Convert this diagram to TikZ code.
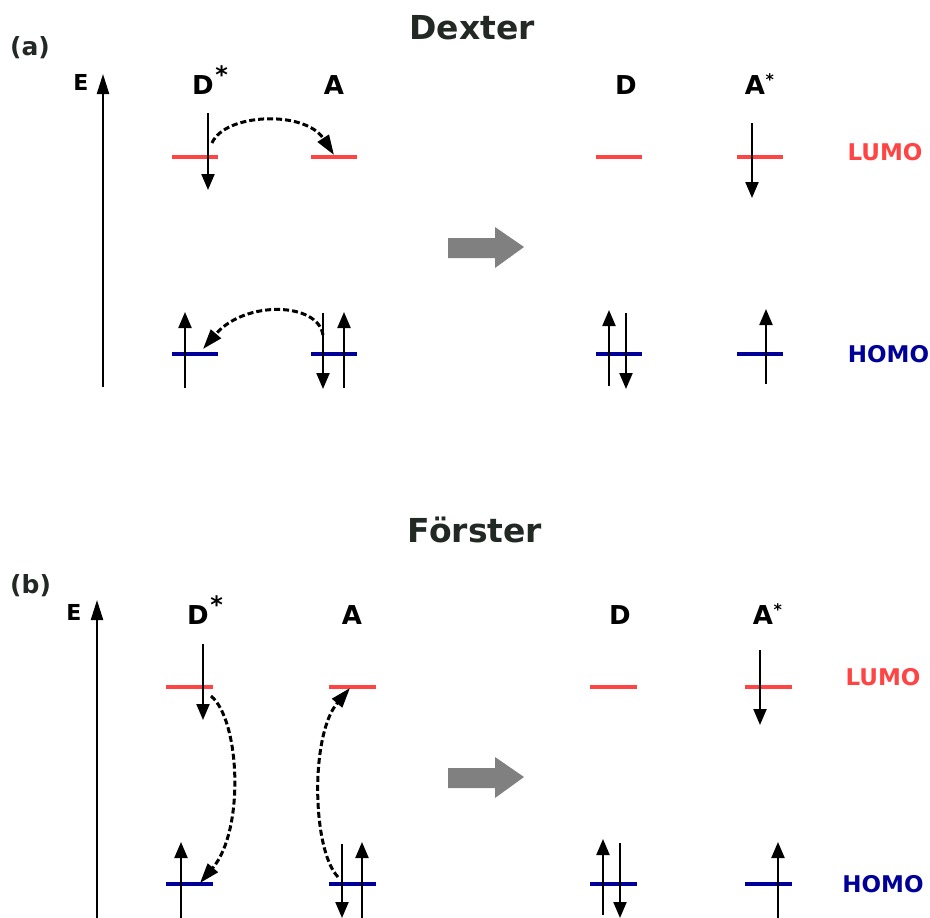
\documentclass[tikz,border=0pt]{standalone}
\usepackage{fontspec}
\setmainfont{DejaVu Sans}
\usetikzlibrary{arrows.meta}
\definecolor{lumored}{RGB}{255,68,68}
\definecolor{homoblue}{RGB}{0,0,153}
\definecolor{titlegray}{RGB}{34,40,36}
\definecolor{arrowgray}{RGB}{128,128,128}
\newcommand{\bigstar}{\rlap{\hspace{1.5pt}\raisebox{11pt}{\fontsize{24}{24}\selectfont\bfseries *}}}
\newcommand{\smallstar}{\rlap{\hspace{0.5pt}\raisebox{9pt}{\fontsize{16}{16}\selectfont\bfseries *}}}
\begin{document}
\begin{tikzpicture}[x=1pt,y=-1pt,
  lumo/.style={draw=lumored,line width=3.5pt},
  homo/.style={draw=homoblue,line width=3.5pt},
  spin/.style={draw=black,line width=2.2pt,-{Triangle[length=16pt,width=13pt]}},
  axis/.style={draw=black,line width=2.2pt,-{Triangle[length=20pt,width=12pt]}},
  hop/.style={draw=black,line width=3pt,dash pattern=on 6pt off 3pt,-{Triangle[length=20pt,width=13pt]}},
  title/.style={font=\fontsize{33}{33}\selectfont\bfseries,text=titlegray,inner sep=0pt},
  panel/.style={font=\fontsize{25}{25}\selectfont\bfseries,text=titlegray,inner sep=0pt},
  elbl/.style={font=\fontsize{22}{22}\selectfont\bfseries,inner sep=0pt},
  mol/.style={font=\fontsize{26}{26}\selectfont\bfseries,inner sep=0pt},
  orb/.style={font=\fontsize{23}{23}\selectfont\bfseries,inner sep=0pt},
  bigarrow/.style={fill=arrowgray,draw=none}
]
\useasboundingbox (0,0) rectangle (930,918);

% ================= (a) Dexter =================
\node[title,anchor=base] (tdexter) at (472,39) {Dexter};
\node[panel,anchor=base west] (pa) at (10,55) {(a)};
\node[elbl,anchor=base] (ea) at (81,90) {E};
\coordinate (axa1) at (103,387);
\coordinate (axa2) at (103,74);
\draw[axis] (axa1) -- (axa2);

\node[mol,anchor=base] (dsa) at (203,94) {D\bigstar};
\node[mol,anchor=base] (aa) at (334,94) {A};
\node[mol,anchor=base] (da) at (626,94) {D};
\node[mol,anchor=base] (asa) at (755,94) {A\smallstar};

\node[orb,text=lumored] (lumoa) at (885,152) {LUMO};
\node[orb,text=homoblue] (homoa) at (888.5,354) {HOMO};

% levels
\draw[lumo] (172,157) -- (218,157);
\draw[lumo] (311,157) -- (357,157);
\draw[lumo] (596,157) -- (642,157);
\draw[lumo] (737,157) -- (783,157);
\draw[homo] (172,354) -- (218,354);
\draw[homo] (311,354) -- (357,354);
\draw[homo] (596,354) -- (642,354);
\draw[homo] (737,354) -- (783,354);

% spins
\draw[spin] (208,113) -- (208,190);
\draw[spin] (185,388) -- (185,312);
\draw[spin] (323,313) -- (323,389);
\draw[spin] (344,388) -- (344,312);
\draw[spin] (752,123) -- (752,198);
\draw[spin] (609,386) -- (609,310);
\draw[spin] (626,313) -- (626,389);
\draw[spin] (766,384) -- (766,309);

% hops
\coordinate (ha1) at (212,143);
\coordinate (ha2) at (334,155);
\draw[hop] (ha1) .. controls (225,113) and (305,110) .. (ha2);
\coordinate (hb1) at (323,335);
\coordinate (hb2) at (203,349);
\draw[hop] (hb1) .. controls (318,302) and (245,300) .. (hb2);

% big arrow
\fill[bigarrow] (448,238) -- (495,238) -- (495,227) -- (524,247) -- (495,268) -- (495,258) -- (448,258) -- cycle;

% ================= (b) Foerster =================
\node[title,anchor=base] (tforster) at (475,542) {Förster};
\node[panel,anchor=base west] (pb) at (10,593) {(b)};
\node[elbl,anchor=base] (eb) at (74,620) {E};
\coordinate (axb1) at (97,918);
\coordinate (axb2) at (97,600);
\draw[axis] (axb1) -- (axb2);

\node[mol,anchor=base] (dsb) at (198,624) {D\bigstar};
\node[mol,anchor=base] (ab) at (352,624) {A};
\node[mol,anchor=base] (db) at (620,624) {D};
\node[mol,anchor=base] (asb) at (763,624) {A\smallstar};

\node[orb,text=lumored] (lumob) at (883,677) {LUMO};
\node[orb,text=homoblue] (homob) at (883,884) {HOMO};

\draw[lumo] (166,687) -- (213,687);
\draw[lumo] (329,687) -- (376,687);
\draw[lumo] (590,687) -- (637,687);
\draw[lumo] (745,687) -- (792,687);
\draw[homo] (166,884) -- (213,884);
\draw[homo] (329,884) -- (376,884);
\draw[homo] (590,884) -- (637,884);
\draw[homo] (745,884) -- (792,884);

\draw[spin] (203,644) -- (203,720);
\draw[spin] (181,918) -- (181,842);
\draw[spin] (342,844) -- (342,918);
\draw[spin] (362,918) -- (362,842);
\draw[spin] (603,915) -- (603,839);
\draw[spin] (620,843) -- (620,918);
\draw[spin] (760,650) -- (760,725);
\draw[spin] (778,918) -- (778,842);

\coordinate (hc1) at (211,696);
\coordinate (hc2) at (200,883);
\draw[hop] (hc1) .. controls (240,720) and (245,830) .. (hc2);
\coordinate (hd1) at (338,877);
\coordinate (hd2) at (350,688);
\draw[hop] (hd1) .. controls (312,850) and (310,735) .. (hd2);

\fill[bigarrow] (448,768) -- (495,768) -- (495,757) -- (524,777) -- (495,798) -- (495,788) -- (448,788) -- cycle;
\end{tikzpicture}
\end{document}
